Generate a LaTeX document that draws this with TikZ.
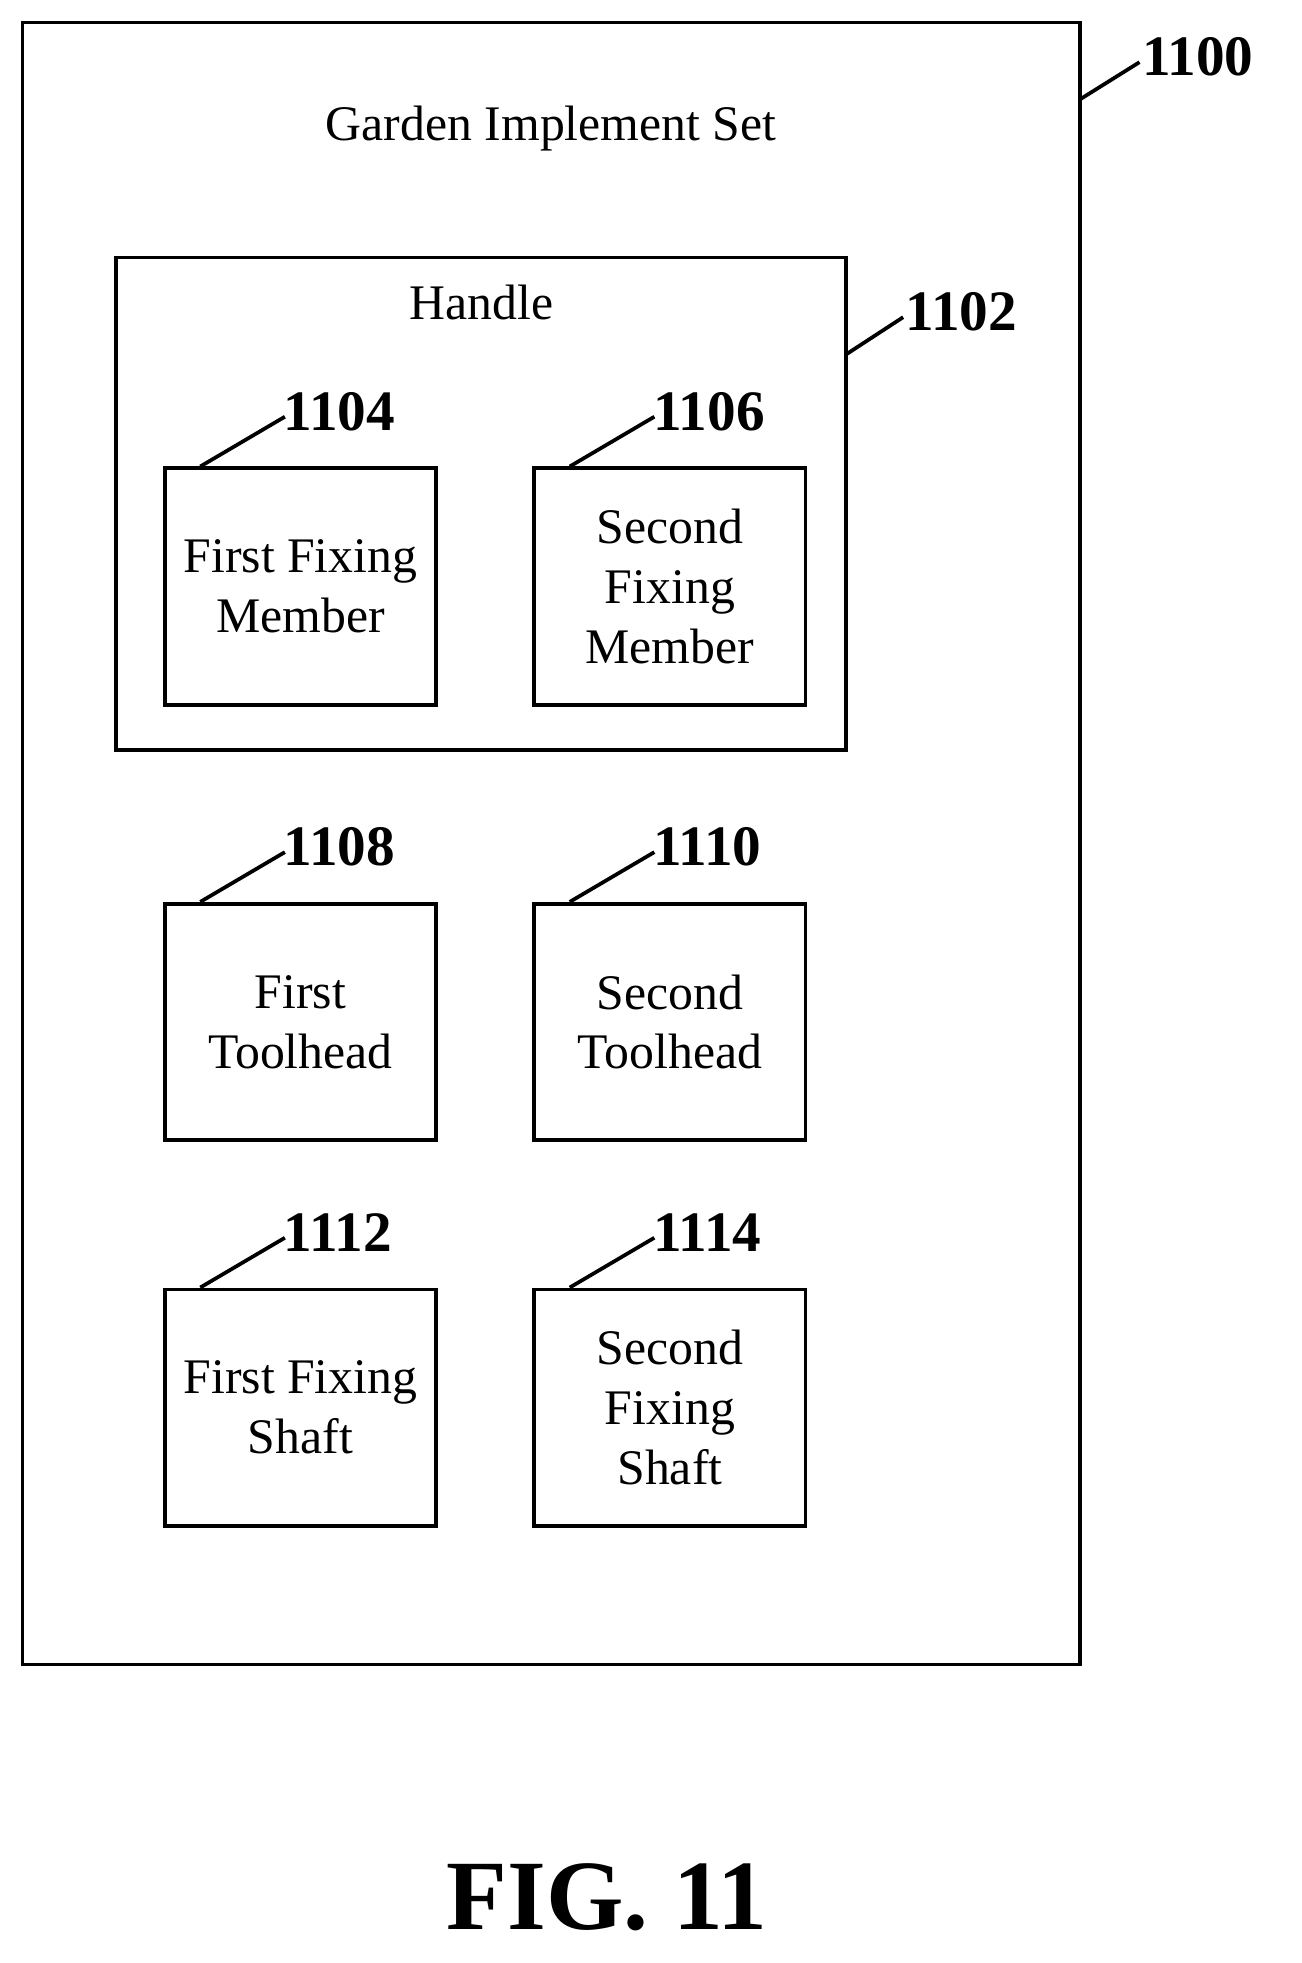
\documentclass[tikz,border=0pt]{standalone}
\usepackage{fontspec}
\setmainfont{Liberation Serif}
\begin{document}
\begin{tikzpicture}[x=1pt,y=-1pt,
  box/.style={draw,line width=3pt,align=center,font=\fontsize{40}{48}\selectfont},
  lead/.style={line width=3pt},
  num/.style={font=\fontsize{46}{50}\selectfont\bfseries}]
\useasboundingbox (0,0) rectangle (1046,1578);
\draw[line width=3pt] (18,18) rectangle (868,1338);
\node[font=\fontsize{40}{48}\selectfont] (title) at (443,103) {Garden Implement Set};
\coordinate (o1) at (868,80); \coordinate (o2) at (916,50);
\draw[lead] (o1) -- (o2); \node[num,anchor=west,inner sep=2pt] (n1100) at (916,46) {1100};
\draw[line width=3pt] (93,207) rectangle (680,603);
\node[font=\fontsize{40}{48}\selectfont] (handle) at (387,243) {Handle};
\coordinate (h1) at (680,285); \coordinate (h2) at (726,255);
\draw[lead] (h1) -- (h2); \node[num,anchor=west,inner sep=2pt] (n1102) at (726,251) {1102};
\foreach \n/\x/\y/\t in {1104/131/375/{First Fixing\\Member},1106/428/375/{Second\\Fixing\\Member},
  1108/131/725/{First\\Toolhead},1110/428/725/{Second\\Toolhead},
  1112/131/1035/{First Fixing\\Shaft},1114/428/1035/{Second\\Fixing\\Shaft}}{
  \node[box,minimum width=218pt,minimum height=190pt,inner sep=0pt,anchor=north west] (b\n) at (\x,\y) {\t};
  \coordinate (s\n) at (\x+30,\y);
  \coordinate (e\n) at (\x+98,\y-40);
  \draw[lead] (s\n) -- (e\n);
  \node[num,anchor=west,inner sep=0pt] (n\n) at (\x+97,\y-44) {\n};
}
\node[font=\fontsize{80}{90}\selectfont\bfseries] (fig) at (488,1525) {FIG. 11};
\end{tikzpicture}
\end{document}
